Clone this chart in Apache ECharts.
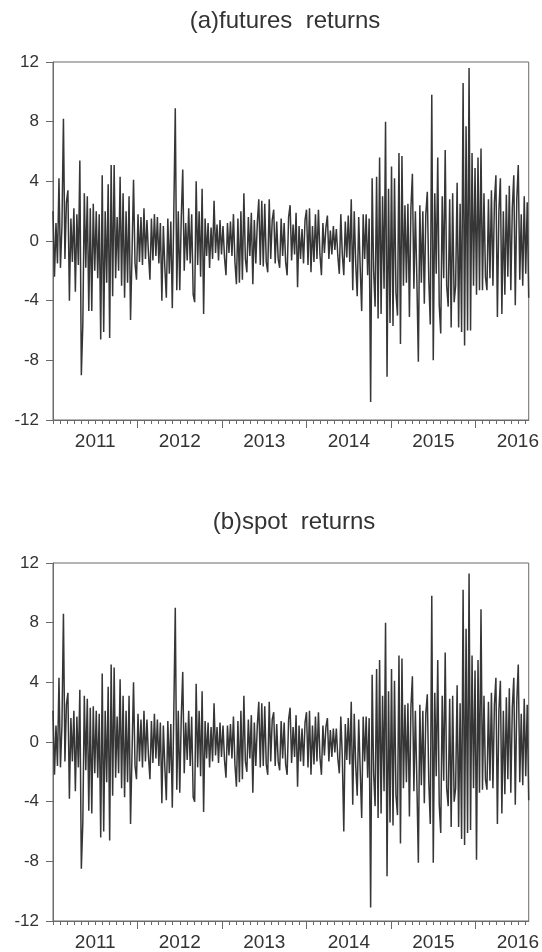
<!DOCTYPE html>
<html><head><meta charset="utf-8">
<script src="https://cdn.jsdelivr.net/npm/echarts@6/dist/echarts.min.js"></script>
<style>html,body{margin:0;padding:0;background:#fff}#c{width:542px;height:952px}</style>
</head><body><div id="c"></div>
<script>
const panelTitles = ['(a)futures  returns', '(b)spot  returns'];
const years = [2011, 2012, 2013, 2014, 2015, 2016];
const monthsShown = 67.54;

const futures = [
 2.0,-2.4,1.2,-1.5,4.2,-1.8,1.0,8.2,-1.2,2.6,
 3.4,-4.0,1.5,-1.4,2.2,-3.4,1.8,-1.6,5.4,-9.0,
 -5.6,3.2,-1.8,3.0,-4.7,2.2,-4.7,2.5,-2.0,2.0,
 -2.5,1.8,-6.6,4.4,-6.1,2.0,-2.8,3.8,-6.5,5.1,
 -3.7,5.1,-2.5,1.6,-2.0,4.3,-3.0,3.2,-3.8,2.0,
 -2.8,3.0,-5.3,-0.8,4.1,-1.5,-2.6,1.8,-1.4,1.6,
 -1.6,2.2,-1.2,1.4,-0.8,-2.6,1.5,-1.3,1.8,-1.0,
 1.6,-1.5,1.2,-4.0,1.0,-1.8,-3.8,1.5,-2.2,1.3,
 -4.5,1.8,8.9,-3.3,2.0,-3.3,1.5,4.8,-2.0,1.2,
 -1.3,2.2,-1.5,1.8,-3.6,-4.1,4.0,-1.6,2.0,-2.4,
 3.5,-4.9,1.5,-1.0,1.2,-1.8,0.9,-1.2,2.7,-0.8,
 1.1,-1.3,1.4,-0.9,1.0,-1.1,-2.3,1.2,-0.8,1.3,
 -1.0,1.8,-1.4,-2.9,1.5,-2.8,2.0,-2.6,3.2,-1.2,
 -2.1,1.6,-1.0,1.9,-2.9,1.4,-1.5,1.2,2.8,-1.6,
 2.7,-1.7,2.5,-1.4,-2.1,2.8,-1.2,1.4,2.1,-1.5,
 1.3,-1.2,-1.8,1.5,-1.0,1.2,-1.4,-2.3,1.6,2.4,
 -1.3,1.1,-0.9,1.9,-3.1,1.0,-1.2,0.8,-1.5,1.4,
 2.1,-1.6,2.2,-2.1,1.0,-1.4,1.8,-1.2,2.1,-0.9,
 -2.3,1.2,-0.8,0.9,1.7,-1.2,0.7,-0.9,1.0,-0.6,
 0.8,-1.0,-2.2,1.8,-0.9,-2.3,1.3,-1.1,1.7,-1.4,
 2.8,-3.3,2.0,-1.5,-3.7,1.6,-1.8,-4.7,1.8,-1.2,
 1.8,-2.3,1.5,-10.8,4.2,-2.0,-4.4,4.3,-5.2,5.6,
 -4.9,3.0,-3.2,8.0,-9.1,3.5,-5.5,5.0,-5.7,4.2,
 -3.5,-5.0,5.9,-6.9,5.7,-3.0,2.4,-2.8,2.5,-5.1,
 2.2,4.5,-3.2,2.0,-2.6,-8.1,2.4,-2.8,2.0,-4.2,
 1.8,3.3,-2.6,-5.6,9.8,-8.0,3.2,-2.2,5.6,-4.3,
 -6.2,3.0,-2.5,6.1,-3.0,-4.4,2.8,-5.8,3.2,-4.1,
 -3.0,3.9,-5.8,2.5,-6.1,10.6,-7.0,7.7,-6.0,11.6,
 -6.0,5.9,-3.0,4.9,-3.6,5.6,-3.3,6.2,-3.3,3.2,
 -2.4,-3.3,2.8,-2.5,3.4,-3.0,2.6,4.4,-5.1,2.0,
 4.2,-4.9,2.0,-3.6,3.1,-2.4,3.7,-3.3,2.2,4.4,
 -4.3,2.8,5.1,-2.6,1.8,-3.0,3.0,-2.2,2.6,-3.8
];

const spot = [
 2.1,-2.2,1.1,-1.6,4.3,-1.7,1.1,8.6,-1.3,2.5,
 3.3,-3.8,1.6,-1.3,2.1,-3.3,1.7,-1.7,3.5,-8.5,
 -5.4,3.1,-1.9,2.9,-4.6,2.3,-4.8,2.4,-2.1,2.1,
 -2.4,1.9,-6.4,4.6,-6.0,2.1,-2.7,3.7,-6.6,5.2,
 -3.6,5.0,-2.4,1.7,-2.1,4.2,-3.1,3.1,-3.7,2.1,
 -2.7,3.1,-5.5,-0.7,4.0,-1.6,-2.5,1.9,-1.3,1.5,
 -1.7,2.1,-1.3,1.5,-0.9,-2.5,1.4,-1.4,1.9,-1.1,
 1.5,-1.6,1.3,-4.1,1.1,-1.7,-3.9,1.4,-2.1,1.2,
 -4.4,1.9,9.0,-3.2,2.1,-3.4,1.6,4.7,-2.1,1.3,
 -1.2,2.1,-1.6,1.7,-3.7,-4.0,3.9,-1.7,2.1,-2.3,
 3.4,-4.7,1.4,-1.1,1.3,-1.7,1.0,-1.3,2.6,-0.9,
 1.0,-1.4,1.3,-1.0,1.1,-1.2,-2.4,1.1,-0.9,1.2,
 -1.1,1.7,-1.5,-3.0,1.4,-2.7,2.1,-2.5,3.1,-1.3,
 -2.0,1.5,-1.1,1.8,-3.4,1.3,-1.6,1.1,2.7,-1.7,
 2.6,-1.6,2.4,-1.5,-2.2,2.7,-1.3,1.5,2.0,-1.6,
 1.2,-1.3,-1.9,1.4,-1.1,1.3,-1.5,-2.2,1.5,2.3,
 -1.4,1.0,-1.0,1.8,-3.0,1.1,-1.3,0.9,-1.6,1.3,
 2.0,-1.7,2.1,-2.2,1.1,-1.5,1.7,-1.3,2.0,-1.0,
 -2.2,1.1,-0.9,1.0,1.6,-1.3,0.8,-1.0,0.9,-0.7,
 0.9,-1.1,-2.1,1.7,-1.0,-6.0,1.2,-1.2,1.6,-1.5,
 2.7,-4.2,1.9,-1.6,-3.6,1.5,-1.9,-5.1,1.7,-1.3,
 1.7,-2.4,1.6,-11.1,4.5,-2.1,-4.3,4.9,-5.1,5.5,
 -4.8,3.1,-3.3,8.0,-9.0,3.4,-5.4,4.9,-5.6,4.1,
 -3.6,-4.9,5.8,-6.8,5.6,-3.1,2.5,-2.7,2.6,-5.0,
 2.3,4.4,-3.3,2.1,-2.7,-8.1,2.5,-2.9,2.1,-4.1,
 1.9,3.2,-2.7,-5.5,9.8,-8.1,3.3,-2.3,5.5,-4.2,
 -6.1,3.1,-2.6,6.0,-3.1,-4.3,2.9,-5.7,3.1,-4.0,
 -3.1,3.8,-5.7,2.6,-6.5,10.2,-6.9,7.6,-6.1,11.3,
 -5.9,5.8,-3.1,4.8,-7.9,5.5,-3.4,8.9,-3.2,3.1,
 -2.5,-3.2,2.7,-2.6,3.3,-3.1,2.5,4.3,-5.5,2.1,
 4.1,-4.8,2.1,-3.5,3.0,-2.5,3.6,-3.4,2.3,4.3,
 -4.2,2.7,5.2,-2.7,1.9,-2.9,2.9,-2.3,2.5,-3.9
];

const FONT = '"Liberation Sans", Arial, Helvetica, sans-serif';
const axisColor = '#6a6a6a';
const textColor = '#333333';
const monthTicks = Array.from({length: 68}, (_, i) => i);
const yearStarts = [12, 24, 36, 48, 60];
const yearMids = years.map((y, i) => 6 + 12 * i);
const seriesList = [futures, spot];
const gridTops = [62, 563];
const titleCenters = [[285, 21], [294, 522]];

const chart = echarts.init(document.getElementById('c'), null, {renderer: 'canvas'});

const grid = gridTops.map(t => ({left: 53, top: t, width: 477, height: 358, show: true,
  borderColor: axisColor, borderWidth: 1, backgroundColor: 'transparent', containLabel: false}));

const xAxis = [];
const yAxis = [];
seriesList.forEach((arr, g) => {
  xAxis.push({type: 'category', gridIndex: g, position: 'top', show: false, boundaryGap: false,
    data: arr.map((_, i) => i)});
  xAxis.push({type: 'value', gridIndex: g, position: 'bottom', min: 0, max: monthsShown, interval: 1,
    axisLine: {show: true, lineStyle: {color: axisColor, width: 1}},
    axisTick: {show: true, length: 4, inside: false, customValues: monthTicks, lineStyle: {color: axisColor}},
    axisLabel: {show: true, margin: 12, fontSize: 19, color: textColor, fontFamily: FONT,
      customValues: yearMids,
      formatter: v => { const k = (v - 6) / 12; const r = Math.round(k);
        return (Math.abs(k - r) < 1e-6 && years[r] !== undefined) ? String(years[r]) : ''; }},
    splitLine: {show: false}});
  xAxis.push({type: 'value', gridIndex: g, position: 'bottom', min: 0, max: monthsShown, interval: 12,
    axisLine: {show: false},
    axisTick: {show: true, length: 8, inside: false, customValues: yearStarts, lineStyle: {color: axisColor}},
    axisLabel: {show: false}, splitLine: {show: false}});
  yAxis.push({type: 'value', gridIndex: g, min: -12, max: 12, interval: 4,
    axisLine: {show: true, lineStyle: {color: axisColor, width: 1}},
    axisTick: {show: true, length: 7, inside: false, lineStyle: {color: axisColor}},
    axisLabel: {fontSize: 17, color: textColor, margin: 14, fontFamily: FONT},
    splitLine: {show: false}});
});

const series = seriesList.map((arr, g) => ({
  type: 'line', xAxisIndex: g * 3, yAxisIndex: g, data: arr,
  symbol: 'none', showSymbol: false, smooth: false, silent: true,
  lineStyle: {color: '#363636', width: 1.5}
}));

const graphic = panelTitles.map((t, g) => ({
  type: 'text', x: titleCenters[g][0], y: titleCenters[g][1],
  style: {text: t, fill: textColor, font: '24px ' + FONT, fontSize: 24, fontFamily: FONT,
    textAlign: 'center', textVerticalAlign: 'middle', align: 'center', verticalAlign: 'middle'}
}));

chart.setOption({animation: false, backgroundColor: '#ffffff', grid, xAxis, yAxis, series, graphic});
</script>
</body></html>
